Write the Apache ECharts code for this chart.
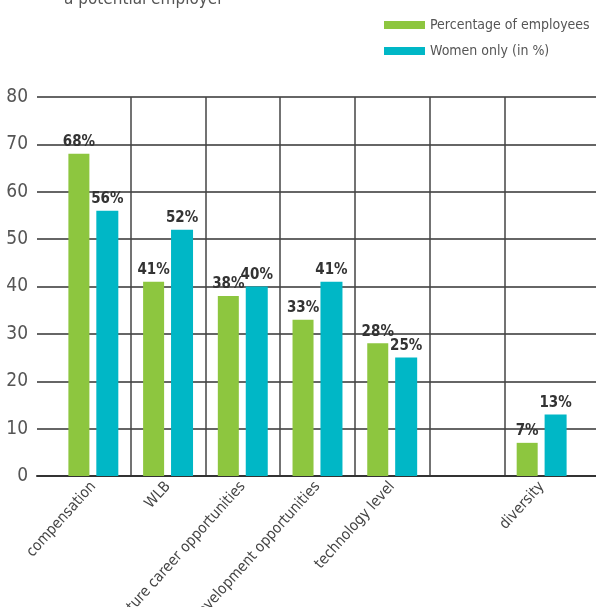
<!DOCTYPE html>
<html>
<head>
<meta charset="utf-8">
<style>
  html, body { margin: 0; padding: 0; background: #fff; }
  #chart { width: 596px; height: 607px; }
</style>
<script src="https://cdn.jsdelivr.net/npm/echarts@6/dist/echarts.min.js"></script>
</head>
<body>
<div id="chart"></div>
<script>
"use strict";
// data
var categories = ['compensation', 'WLB', 'future career opportunities', 'development opportunities', 'technology level', '', 'diversity'];
var employees = [68, 41, 38, 33, 28, null, 7];
var women = [56, 52, 40, 41, 25, null, 13];
var yTicks = [0, 10, 20, 30, 40, 50, 60, 70, 80];

var narrow = "'DejaVu Sans Condensed', 'DejaVu Sans', sans-serif";
var cond = 'condensed';
var green = '#8dc63f';
var teal = '#00b7c6';

var myChart = echarts.init(document.getElementById('chart'));

var barLabel = {
    show: true,
    position: 'top',
    distance: 4,
    formatter: function (p) { return p.value == null ? '' : p.value + '%'; },
    fontFamily: narrow,
    fontStyle: cond,
    fontWeight: 'bold',
    fontSize: 15,
    color: '#333'
};

var option = {
    animation: false,
    title: {
        text: 'a potential employer',
        left: 59,
        top: -14,
        textStyle: { fontFamily: narrow, fontStyle: cond, fontSize: 17, fontWeight: 'normal', color: '#555' }
    },
    legend: {
        orient: 'vertical',
        left: 379,
        top: 13,
        itemWidth: 41,
        itemHeight: 8,
        itemGap: 12,
        icon: 'rect',
        textStyle: { fontFamily: narrow, fontStyle: cond, fontSize: 14, color: '#555' },
        data: ['Percentage of employees', 'Women only (in %)']
    },
    grid: [
        { left: 37, right: 0, top: 97, bottom: 131, outerBoundsMode: 'none', containLabel: false },
        { left: 56, right: 17, top: 97, bottom: 131, outerBoundsMode: 'none', containLabel: false }
    ],
    xAxis: [
        {
            gridIndex: 0,
            type: 'value',
            min: 0,
            max: 1,
            axisLine: { show: true, onZero: false, lineStyle: { color: '#333', width: 2 } },
            axisTick: { show: false },
            axisLabel: { show: false },
            splitLine: { show: false }
        },
        {
            gridIndex: 1,
            type: 'category',
            data: categories,
            axisLine: { show: false },
            axisTick: { show: false },
            axisLabel: {
                rotate: 48,
                interval: 0,
                margin: 8,
                fontFamily: narrow,
                fontStyle: cond,
                fontSize: 15,
                color: '#444'
            },
            splitLine: {
                show: true,
                showMinLine: false,
                showMaxLine: false,
                lineStyle: { color: '#444', width: 1.5 }
            }
        }
    ],
    yAxis: [
        {
            gridIndex: 0,
            type: 'value',
            min: yTicks[0],
            max: yTicks[yTicks.length - 1],
            interval: 10,
            axisLine: { show: false },
            axisTick: { show: false },
            axisLabel: { margin: 9, fontFamily: narrow, fontStyle: cond, fontSize: 19, color: '#555' },
            splitLine: { show: true, lineStyle: { color: '#333', width: 1.5 } }
        },
        {
            gridIndex: 1,
            type: 'value',
            min: yTicks[0],
            max: yTicks[yTicks.length - 1],
            show: false,
            splitLine: { show: false }
        }
    ],
    series: [
        {
            name: 'Percentage of employees',
            type: 'bar',
            xAxisIndex: 1,
            yAxisIndex: 1,
            data: employees,
            barWidth: 21,
            barGap: '33%',
            itemStyle: { color: green },
            label: barLabel
        },
        {
            name: 'Women only (in %)',
            type: 'bar',
            xAxisIndex: 1,
            yAxisIndex: 1,
            data: women,
            barWidth: 22,
            itemStyle: { color: teal },
            label: barLabel
        }
    ]
};

myChart.setOption(option);

window.onresize = function () {
    myChart.resize();
};
</script>
</body>
</html>
